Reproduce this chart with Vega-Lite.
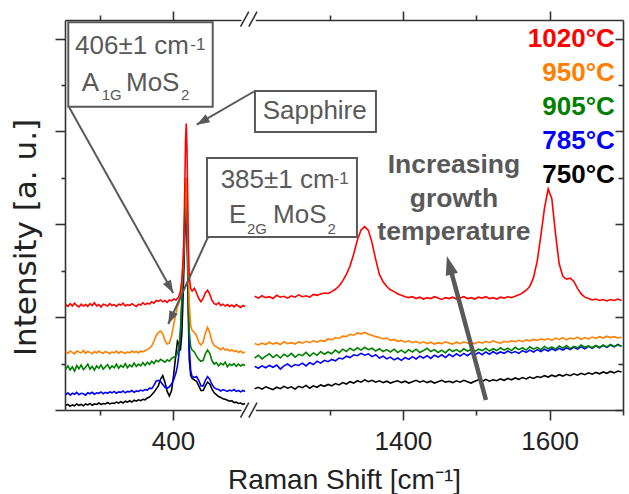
{
"$schema": "https://vega.github.io/schema/vega-lite/v6.json",
"width": 558, "height": 390,
"autosize": {"type": "none"},
"padding": {"left": 65, "top": 20, "right": 6, "bottom": 84},
"background": "white",
"config": {"view": {"stroke": null}, "text": {"font": "Liberation Sans"}},
"resolve": {"axis": {"x": "independent", "y": "independent"}},
"datasets": {"spec": [
{"x":254,"r":2.27,"o":1.26,"g":0.88,"b":0.33,"k":0.10,"p":"L"},
{"x":257,"r":2.23,"o":1.22,"g":0.95,"b":0.37,"k":0.12,"p":"L"},
{"x":260,"r":2.29,"o":1.27,"g":0.86,"b":0.32,"k":0.08,"p":"L"},
{"x":263,"r":2.24,"o":1.24,"g":0.93,"b":0.36,"k":0.11,"p":"L"},
{"x":266,"r":2.30,"o":1.21,"g":0.84,"b":0.34,"k":0.09,"p":"L"},
{"x":269,"r":2.25,"o":1.27,"g":0.96,"b":0.38,"k":0.13,"p":"L"},
{"x":272,"r":2.22,"o":1.25,"g":0.89,"b":0.33,"k":0.10,"p":"L"},
{"x":275,"r":2.28,"o":1.23,"g":0.97,"b":0.36,"k":0.12,"p":"L"},
{"x":278,"r":2.24,"o":1.28,"g":0.87,"b":0.35,"k":0.09,"p":"L"},
{"x":281,"r":2.27,"o":1.22,"g":0.92,"b":0.32,"k":0.13,"p":"L"},
{"x":284,"r":2.23,"o":1.26,"g":0.99,"b":0.37,"k":0.11,"p":"L"},
{"x":287,"r":2.29,"o":1.24,"g":0.88,"b":0.35,"k":0.14,"p":"L"},
{"x":290,"r":2.25,"o":1.21,"g":0.94,"b":0.38,"k":0.10,"p":"L"},
{"x":293,"r":2.31,"o":1.26,"g":0.86,"b":0.34,"k":0.13,"p":"L"},
{"x":296,"r":2.24,"o":1.23,"g":0.95,"b":0.37,"k":0.12,"p":"L"},
{"x":299,"r":2.27,"o":1.27,"g":0.90,"b":0.36,"k":0.15,"p":"L"},
{"x":302,"r":2.22,"o":1.24,"g":0.97,"b":0.39,"k":0.12,"p":"L"},
{"x":305,"r":2.28,"o":1.22,"g":0.88,"b":0.35,"k":0.14,"p":"L"},
{"x":308,"r":2.26,"o":1.26,"g":0.93,"b":0.38,"k":0.13,"p":"L"},
{"x":311,"r":2.24,"o":1.24,"g":0.98,"b":0.36,"k":0.16,"p":"L"},
{"x":314,"r":2.29,"o":1.21,"g":0.89,"b":0.39,"k":0.13,"p":"L"},
{"x":317,"r":2.25,"o":1.25,"g":0.95,"b":0.37,"k":0.15,"p":"L"},
{"x":320,"r":2.27,"o":1.23,"g":0.91,"b":0.40,"k":0.14,"p":"L"},
{"x":323,"r":2.23,"o":1.27,"g":0.99,"b":0.36,"k":0.17,"p":"L"},
{"x":326,"r":2.28,"o":1.22,"g":0.90,"b":0.39,"k":0.15,"p":"L"},
{"x":329,"r":2.26,"o":1.26,"g":0.96,"b":0.38,"k":0.18,"p":"L"},
{"x":332,"r":2.30,"o":1.24,"g":0.92,"b":0.41,"k":0.15,"p":"L"},
{"x":335,"r":2.24,"o":1.22,"g":1.00,"b":0.37,"k":0.19,"p":"L"},
{"x":338,"r":2.27,"o":1.25,"g":0.91,"b":0.40,"k":0.17,"p":"L"},
{"x":341,"r":2.25,"o":1.23,"g":0.97,"b":0.39,"k":0.20,"p":"L"},
{"x":344,"r":2.29,"o":1.27,"g":0.93,"b":0.42,"k":0.17,"p":"L"},
{"x":347,"r":2.26,"o":1.24,"g":1.01,"b":0.38,"k":0.21,"p":"L"},
{"x":350,"r":2.23,"o":1.26,"g":0.94,"b":0.41,"k":0.19,"p":"L"},
{"x":353,"r":2.28,"o":1.23,"g":0.99,"b":0.40,"k":0.22,"p":"L"},
{"x":356,"r":2.26,"o":1.27,"g":0.95,"b":0.43,"k":0.20,"p":"L"},
{"x":359,"r":2.31,"o":1.25,"g":1.02,"b":0.41,"k":0.23,"p":"L"},
{"x":362,"r":2.27,"o":1.28,"g":0.96,"b":0.44,"k":0.22,"p":"L"},
{"x":365,"r":2.30,"o":1.30,"g":1.03,"b":0.43,"k":0.26,"p":"L"},
{"x":368,"r":2.28,"o":1.33,"g":0.98,"b":0.47,"k":0.28,"p":"L"},
{"x":371,"r":2.33,"o":1.38,"g":1.05,"b":0.46,"k":0.33,"p":"L"},
{"x":374,"r":2.30,"o":1.48,"g":1.00,"b":0.53,"k":0.38,"p":"L"},
{"x":377,"r":2.36,"o":1.60,"g":1.07,"b":0.62,"k":0.45,"p":"L"},
{"x":380,"r":2.34,"o":1.67,"g":1.04,"b":0.64,"k":0.52,"p":"L"},
{"x":383,"r":2.37,"o":1.70,"g":1.09,"b":0.61,"k":0.66,"p":"L"},
{"x":386,"r":2.33,"o":1.64,"g":1.06,"b":0.55,"k":0.74,"p":"L"},
{"x":389,"r":2.36,"o":1.50,"g":1.03,"b":0.49,"k":0.60,"p":"L"},
{"x":392,"r":2.32,"o":1.42,"g":1.08,"b":0.47,"k":0.40,"p":"L"},
{"x":395,"r":2.37,"o":1.44,"g":1.05,"b":0.50,"k":0.30,"p":"L"},
{"x":398,"r":2.35,"o":1.60,"g":1.11,"b":0.56,"k":0.42,"p":"L"},
{"x":401,"r":2.39,"o":1.85,"g":1.14,"b":0.66,"k":0.78,"p":"L"},
{"x":404,"r":2.37,"o":2.08,"g":1.16,"b":0.80,"k":1.22,"p":"L"},
{"x":406,"r":2.40,"o":2.22,"g":1.22,"b":0.95,"k":1.48,"p":"L"},
{"x":408,"r":2.45,"o":2.30,"g":1.35,"b":1.20,"k":1.42,"p":"L"},
{"x":410,"r":2.55,"o":2.42,"g":1.70,"b":1.60,"k":1.28,"p":"L"},
{"x":412,"r":2.80,"o":2.75,"g":2.40,"b":2.30,"k":1.65,"p":"L"},
{"x":414,"r":3.30,"o":3.25,"g":3.10,"b":3.00,"k":2.60,"p":"L"},
{"x":415,"r":3.90,"o":3.75,"g":3.60,"b":3.50,"k":3.20,"p":"L"},
{"x":416,"r":4.80,"o":4.30,"g":4.20,"b":4.00,"k":3.80,"p":"L"},
{"x":417,"r":5.80,"o":4.80,"g":4.60,"b":4.40,"k":4.20,"p":"L"},
{"x":418,"r":6.17,"o":5.00,"g":4.80,"b":4.50,"k":4.30,"p":"L"},
{"x":419,"r":5.60,"o":4.60,"g":4.30,"b":4.10,"k":3.90,"p":"L"},
{"x":420,"r":4.50,"o":3.70,"g":3.40,"b":3.20,"k":2.90,"p":"L"},
{"x":421,"r":3.50,"o":2.90,"g":2.40,"b":2.20,"k":1.90,"p":"L"},
{"x":422,"r":2.90,"o":2.30,"g":1.70,"b":1.40,"k":1.10,"p":"L"},
{"x":424,"r":2.62,"o":1.82,"g":1.36,"b":0.85,"k":0.75,"p":"L"},
{"x":426,"r":2.56,"o":1.71,"g":1.29,"b":0.72,"k":0.68,"p":"L"},
{"x":429,"r":2.62,"o":1.67,"g":1.25,"b":0.70,"k":0.65,"p":"L"},
{"x":432,"r":2.52,"o":1.60,"g":1.16,"b":0.72,"k":0.62,"p":"L"},
{"x":435,"r":2.40,"o":1.46,"g":1.09,"b":0.64,"k":0.52,"p":"L"},
{"x":438,"r":2.33,"o":1.40,"g":1.05,"b":0.52,"k":0.42,"p":"L"},
{"x":441,"r":2.41,"o":1.46,"g":1.07,"b":0.52,"k":0.42,"p":"L"},
{"x":444,"r":2.52,"o":1.66,"g":1.21,"b":0.64,"k":0.52,"p":"L"},
{"x":447,"r":2.58,"o":1.78,"g":1.29,"b":0.72,"k":0.60,"p":"L"},
{"x":450,"r":2.49,"o":1.66,"g":1.22,"b":0.66,"k":0.56,"p":"L"},
{"x":453,"r":2.36,"o":1.47,"g":1.06,"b":0.55,"k":0.45,"p":"L"},
{"x":456,"r":2.29,"o":1.39,"g":0.99,"b":0.48,"k":0.37,"p":"L"},
{"x":459,"r":2.27,"o":1.36,"g":1.02,"b":0.45,"k":0.33,"p":"L"},
{"x":462,"r":2.31,"o":1.33,"g":0.95,"b":0.44,"k":0.29,"p":"L"},
{"x":465,"r":2.25,"o":1.30,"g":1.01,"b":0.41,"k":0.27,"p":"L"},
{"x":468,"r":2.28,"o":1.34,"g":0.97,"b":0.44,"k":0.24,"p":"L"},
{"x":471,"r":2.24,"o":1.29,"g":1.03,"b":0.42,"k":0.23,"p":"L"},
{"x":474,"r":2.27,"o":1.31,"g":0.93,"b":0.40,"k":0.21,"p":"L"},
{"x":477,"r":2.23,"o":1.27,"g":0.99,"b":0.43,"k":0.19,"p":"L"},
{"x":480,"r":2.26,"o":1.30,"g":0.96,"b":0.41,"k":0.20,"p":"L"},
{"x":483,"r":2.22,"o":1.26,"g":1.00,"b":0.44,"k":0.16,"p":"L"},
{"x":486,"r":2.27,"o":1.28,"g":0.94,"b":0.40,"k":0.17,"p":"L"},
{"x":489,"r":2.24,"o":1.24,"g":0.99,"b":0.42,"k":0.14,"p":"L"},
{"x":492,"r":2.21,"o":1.27,"g":0.95,"b":0.39,"k":0.15,"p":"L"},
{"x":495,"r":2.25,"o":1.23,"g":0.98,"b":0.42,"k":0.12,"p":"L"},
{"x":498,"r":2.23,"o":1.25,"g":0.96,"b":0.40,"k":0.14,"p":"L"},
{"x":1198,"r":2.45,"o":1.43,"g":1.12,"b":0.94,"k":0.46,"p":"R"},
{"x":1203,"r":2.41,"o":1.40,"g":1.18,"b":0.90,"k":0.49,"p":"R"},
{"x":1208,"r":2.46,"o":1.44,"g":1.10,"b":0.95,"k":0.45,"p":"R"},
{"x":1213,"r":2.42,"o":1.41,"g":1.16,"b":0.91,"k":0.50,"p":"R"},
{"x":1218,"r":2.44,"o":1.46,"g":1.21,"b":0.96,"k":0.47,"p":"R"},
{"x":1223,"r":2.40,"o":1.42,"g":1.13,"b":0.92,"k":0.44,"p":"R"},
{"x":1228,"r":2.47,"o":1.45,"g":1.19,"b":0.97,"k":0.49,"p":"R"},
{"x":1233,"r":2.43,"o":1.41,"g":1.12,"b":0.88,"k":0.46,"p":"R"},
{"x":1238,"r":2.45,"o":1.47,"g":1.20,"b":0.95,"k":0.51,"p":"R"},
{"x":1243,"r":2.41,"o":1.43,"g":1.15,"b":0.99,"k":0.47,"p":"R"},
{"x":1248,"r":2.46,"o":1.45,"g":1.22,"b":0.93,"k":0.50,"p":"R"},
{"x":1253,"r":2.43,"o":1.42,"g":1.14,"b":0.98,"k":0.45,"p":"R"},
{"x":1258,"r":2.48,"o":1.47,"g":1.20,"b":0.96,"k":0.51,"p":"R"},
{"x":1263,"r":2.44,"o":1.44,"g":1.17,"b":1.01,"k":0.48,"p":"R"},
{"x":1268,"r":2.46,"o":1.48,"g":1.24,"b":0.95,"k":0.53,"p":"R"},
{"x":1273,"r":2.43,"o":1.45,"g":1.16,"b":1.02,"k":0.47,"p":"R"},
{"x":1278,"r":2.49,"o":1.49,"g":1.23,"b":0.98,"k":0.52,"p":"R"},
{"x":1283,"r":2.47,"o":1.46,"g":1.18,"b":1.05,"k":0.49,"p":"R"},
{"x":1288,"r":2.50,"o":1.50,"g":1.26,"b":1.01,"k":0.54,"p":"R"},
{"x":1293,"r":2.52,"o":1.48,"g":1.20,"b":1.07,"k":0.51,"p":"R"},
{"x":1298,"r":2.51,"o":1.53,"g":1.25,"b":1.04,"k":0.55,"p":"R"},
{"x":1303,"r":2.55,"o":1.51,"g":1.21,"b":1.09,"k":0.52,"p":"R"},
{"x":1308,"r":2.60,"o":1.56,"g":1.29,"b":1.06,"k":0.57,"p":"R"},
{"x":1313,"r":2.67,"o":1.54,"g":1.23,"b":1.12,"k":0.54,"p":"R"},
{"x":1318,"r":2.78,"o":1.59,"g":1.31,"b":1.10,"k":0.59,"p":"R"},
{"x":1323,"r":2.92,"o":1.58,"g":1.26,"b":1.16,"k":0.56,"p":"R"},
{"x":1328,"r":3.10,"o":1.63,"g":1.33,"b":1.13,"k":0.61,"p":"R"},
{"x":1333,"r":3.36,"o":1.61,"g":1.28,"b":1.19,"k":0.58,"p":"R"},
{"x":1338,"r":3.66,"o":1.66,"g":1.34,"b":1.17,"k":0.63,"p":"R"},
{"x":1343,"r":3.88,"o":1.64,"g":1.29,"b":1.22,"k":0.60,"p":"R"},
{"x":1348,"r":3.95,"o":1.67,"g":1.35,"b":1.18,"k":0.65,"p":"R"},
{"x":1353,"r":3.87,"o":1.63,"g":1.30,"b":1.21,"k":0.61,"p":"R"},
{"x":1358,"r":3.60,"o":1.61,"g":1.33,"b":1.15,"k":0.64,"p":"R"},
{"x":1363,"r":3.24,"o":1.58,"g":1.27,"b":1.19,"k":0.60,"p":"R"},
{"x":1368,"r":2.92,"o":1.56,"g":1.32,"b":1.12,"k":0.63,"p":"R"},
{"x":1373,"r":2.76,"o":1.53,"g":1.26,"b":1.16,"k":0.59,"p":"R"},
{"x":1378,"r":2.66,"o":1.55,"g":1.30,"b":1.10,"k":0.62,"p":"R"},
{"x":1383,"r":2.59,"o":1.50,"g":1.25,"b":1.14,"k":0.58,"p":"R"},
{"x":1388,"r":2.55,"o":1.52,"g":1.31,"b":1.08,"k":0.61,"p":"R"},
{"x":1393,"r":2.50,"o":1.48,"g":1.24,"b":1.12,"k":0.63,"p":"R"},
{"x":1398,"r":2.47,"o":1.50,"g":1.29,"b":1.07,"k":0.59,"p":"R"},
{"x":1403,"r":2.44,"o":1.46,"g":1.23,"b":1.13,"k":0.62,"p":"R"},
{"x":1408,"r":2.42,"o":1.49,"g":1.30,"b":1.09,"k":0.58,"p":"R"},
{"x":1413,"r":2.44,"o":1.45,"g":1.25,"b":1.15,"k":0.61,"p":"R"},
{"x":1418,"r":2.40,"o":1.48,"g":1.31,"b":1.10,"k":0.64,"p":"R"},
{"x":1423,"r":2.43,"o":1.44,"g":1.24,"b":1.16,"k":0.60,"p":"R"},
{"x":1428,"r":2.39,"o":1.47,"g":1.28,"b":1.12,"k":0.63,"p":"R"},
{"x":1433,"r":2.42,"o":1.43,"g":1.33,"b":1.17,"k":0.59,"p":"R"},
{"x":1438,"r":2.40,"o":1.46,"g":1.26,"b":1.11,"k":0.62,"p":"R"},
{"x":1443,"r":2.44,"o":1.42,"g":1.30,"b":1.18,"k":0.58,"p":"R"},
{"x":1448,"r":2.41,"o":1.45,"g":1.24,"b":1.14,"k":0.61,"p":"R"},
{"x":1453,"r":2.38,"o":1.43,"g":1.29,"b":1.19,"k":0.64,"p":"R"},
{"x":1458,"r":2.42,"o":1.47,"g":1.23,"b":1.13,"k":0.60,"p":"R"},
{"x":1463,"r":2.40,"o":1.44,"g":1.31,"b":1.20,"k":0.62,"p":"R"},
{"x":1468,"r":2.43,"o":1.42,"g":1.26,"b":1.15,"k":0.59,"p":"R"},
{"x":1473,"r":2.39,"o":1.46,"g":1.30,"b":1.21,"k":0.63,"p":"R"},
{"x":1478,"r":2.41,"o":1.43,"g":1.25,"b":1.16,"k":0.60,"p":"R"},
{"x":1483,"r":2.44,"o":1.47,"g":1.32,"b":1.22,"k":0.64,"p":"R"},
{"x":1488,"r":2.40,"o":1.44,"g":1.27,"b":1.17,"k":0.61,"p":"R"},
{"x":1493,"r":2.42,"o":1.46,"g":1.30,"b":1.23,"k":0.58,"p":"R"},
{"x":1498,"r":2.39,"o":1.43,"g":1.26,"b":1.18,"k":0.62,"p":"R"},
{"x":1503,"r":2.43,"o":1.47,"g":1.31,"b":1.24,"k":0.65,"p":"R"},
{"x":1508,"r":2.41,"o":1.44,"g":1.28,"b":1.19,"k":0.61,"p":"R"},
{"x":1513,"r":2.44,"o":1.48,"g":1.33,"b":1.25,"k":0.66,"p":"R"},
{"x":1518,"r":2.40,"o":1.45,"g":1.27,"b":1.20,"k":0.62,"p":"R"},
{"x":1523,"r":2.42,"o":1.49,"g":1.32,"b":1.26,"k":0.65,"p":"R"},
{"x":1528,"r":2.39,"o":1.46,"g":1.28,"b":1.21,"k":0.63,"p":"R"},
{"x":1533,"r":2.43,"o":1.44,"g":1.34,"b":1.25,"k":0.67,"p":"R"},
{"x":1538,"r":2.41,"o":1.48,"g":1.29,"b":1.22,"k":0.64,"p":"R"},
{"x":1543,"r":2.44,"o":1.46,"g":1.33,"b":1.27,"k":0.68,"p":"R"},
{"x":1548,"r":2.42,"o":1.49,"g":1.28,"b":1.23,"k":0.65,"p":"R"},
{"x":1553,"r":2.45,"o":1.47,"g":1.35,"b":1.26,"k":0.69,"p":"R"},
{"x":1558,"r":2.48,"o":1.50,"g":1.30,"b":1.22,"k":0.66,"p":"R"},
{"x":1563,"r":2.52,"o":1.47,"g":1.34,"b":1.28,"k":0.70,"p":"R"},
{"x":1568,"r":2.58,"o":1.51,"g":1.29,"b":1.24,"k":0.67,"p":"R"},
{"x":1573,"r":2.66,"o":1.49,"g":1.36,"b":1.29,"k":0.71,"p":"R"},
{"x":1578,"r":2.85,"o":1.52,"g":1.31,"b":1.25,"k":0.68,"p":"R"},
{"x":1583,"r":3.20,"o":1.50,"g":1.35,"b":1.30,"k":0.72,"p":"R"},
{"x":1588,"r":3.75,"o":1.53,"g":1.30,"b":1.26,"k":0.70,"p":"R"},
{"x":1593,"r":4.35,"o":1.51,"g":1.37,"b":1.31,"k":0.74,"p":"R"},
{"x":1598,"r":4.76,"o":1.54,"g":1.32,"b":1.27,"k":0.71,"p":"R"},
{"x":1603,"r":4.55,"o":1.50,"g":1.36,"b":1.32,"k":0.75,"p":"R"},
{"x":1608,"r":3.80,"o":1.55,"g":1.31,"b":1.28,"k":0.72,"p":"R"},
{"x":1613,"r":3.15,"o":1.52,"g":1.38,"b":1.33,"k":0.76,"p":"R"},
{"x":1618,"r":2.88,"o":1.56,"g":1.33,"b":1.29,"k":0.73,"p":"R"},
{"x":1623,"r":2.82,"o":1.51,"g":1.39,"b":1.34,"k":0.77,"p":"R"},
{"x":1628,"r":2.84,"o":1.55,"g":1.32,"b":1.30,"k":0.74,"p":"R"},
{"x":1633,"r":2.77,"o":1.53,"g":1.37,"b":1.35,"k":0.78,"p":"R"},
{"x":1638,"r":2.62,"o":1.57,"g":1.34,"b":1.31,"k":0.75,"p":"R"},
{"x":1643,"r":2.50,"o":1.52,"g":1.40,"b":1.36,"k":0.79,"p":"R"},
{"x":1648,"r":2.43,"o":1.56,"g":1.35,"b":1.32,"k":0.76,"p":"R"},
{"x":1653,"r":2.40,"o":1.53,"g":1.38,"b":1.37,"k":0.80,"p":"R"},
{"x":1658,"r":2.37,"o":1.57,"g":1.34,"b":1.33,"k":0.77,"p":"R"},
{"x":1663,"r":2.39,"o":1.54,"g":1.39,"b":1.38,"k":0.81,"p":"R"},
{"x":1668,"r":2.36,"o":1.58,"g":1.35,"b":1.34,"k":0.78,"p":"R"},
{"x":1673,"r":2.38,"o":1.55,"g":1.40,"b":1.39,"k":0.82,"p":"R"},
{"x":1678,"r":2.35,"o":1.59,"g":1.36,"b":1.35,"k":0.79,"p":"R"},
{"x":1683,"r":2.38,"o":1.56,"g":1.41,"b":1.40,"k":0.83,"p":"R"},
{"x":1688,"r":2.36,"o":1.58,"g":1.37,"b":1.36,"k":0.80,"p":"R"},
{"x":1693,"r":2.39,"o":1.55,"g":1.40,"b":1.41,"k":0.84,"p":"R"},
{"x":1698,"r":2.36,"o":1.57,"g":1.38,"b":1.37,"k":0.82,"p":"R"}
]},
"layer": [
{
"data": {"name": "spec"},
"transform": [{"fold": ["k","b","g","o","r"], "as": ["s","y"]}],
"mark": {"type": "line", "strokeWidth": 1.6},
"encoding": {
"x": {"field": "x", "type": "quantitative", "scale": {"domain": [253,502,1193,1700], "range": [0,183,186,558], "nice": false, "zero": false},
"axis": {"orient": "bottom", "values": [400,1400,1600], "format": "d", "tickSize": 10, "tickWidth": 1.6, "tickColor": "#333", "domainColor": "#333", "domainWidth": 1.6, "grid": false, "labelFont": "Liberation Sans", "labelFontSize": 26, "labelColor": "#222", "labelPadding": 8, "labelFlush": false, "labelOverlap": false, "title": "Raman Shift [cm⁻¹]", "titleFont": "Liberation Sans", "titleFontSize": 28, "titleFontWeight": "normal", "titleColor": "#222", "titlePadding": 12}},
"y": {"field": "y", "type": "quantitative", "scale": {"domain": [0,8.4], "nice": false, "zero": false},
"axis": {"orient": "left", "values": [0,2,4,6,8], "tickSize": 10, "tickWidth": 1.6, "tickColor": "#333", "domainColor": "#333", "domainWidth": 1.6, "grid": false, "labels": false, "title": "Intensity [a. u.]", "titleFont": "DejaVu Sans", "titleFontSize": 31, "titleFontWeight": "normal", "titleColor": "#222", "titleX": -30, "titleY": 217, "titleAngle": -90, "titleAlign": "center", "titleBaseline": "alphabetic"}},
"color": {"field": "s", "type": "nominal", "scale": {"domain": ["k","b","g","o","r"], "range": ["#000000","#0000FF","#008000","#FF8000","#FF0000"]}, "legend": null},
"detail": {"field": "p"}
}
},
{
"data": {"values": [{"x": 493, "x2": 1199.5, "y": 0}, {"x": 493, "x2": 1199.5, "y": 8.4}]},
"mark": {"type": "rule", "color": "white", "strokeWidth": 5},
"encoding": {
"x": {"field": "x", "type": "quantitative", "scale": {"domain": [253,502,1193,1700], "range": [0,183,186,558], "nice": false, "zero": false},
"axis": {"orient": "bottom", "values": [300,1300,1500,1700], "tickSize": 5, "tickWidth": 1.6, "tickColor": "#333", "domain": false, "labels": false, "grid": false, "title": null}},
"x2": {"field": "x2"},
"y": {"field": "y", "type": "quantitative", "scale": {"domain": [0,8.4], "nice": false, "zero": false},
"axis": {"orient": "left", "values": [1,3,5,7], "tickSize": 4, "tickWidth": 1.6, "tickColor": "#333", "domain": false, "labels": false, "grid": false, "title": null}}
}
},
{
"data": {"values": [{"x": 491.8, "x2": 686, "y": -0.166, "y2": 0.157}, {"x": 686, "x2": 1201.2, "y": -0.166, "y2": 0.157}, {"x": 491.8, "x2": 686, "y": 8.255, "y2": 8.578}, {"x": 686, "x2": 1201.2, "y": 8.255, "y2": 8.578}]},
"mark": {"type": "rule", "color": "#333", "strokeWidth": 1.6},
"encoding": {
"x": {"field": "x", "type": "quantitative", "scale": {"domain": [253,502,1193,1700], "range": [0,183,186,558], "nice": false, "zero": false},
"axis": {"orient": "top", "values": [400,1400,1600], "tickSize": 9, "tickWidth": 1.6, "tickColor": "#333", "domainColor": "#333", "domainWidth": 1.6, "labels": false, "grid": false, "title": null}},
"x2": {"field": "x2"},
"y": {"field": "y", "type": "quantitative", "scale": {"domain": [0,8.4], "nice": false, "zero": false},
"axis": {"orient": "right", "values": [0,2,4,6,8], "tickSize": -8, "tickWidth": 1.6, "tickColor": "#333", "domainColor": "#333", "domainWidth": 1.6, "labels": false, "grid": false, "title": null}},
"y2": {"field": "y2"}
}
},
{
"data": {"values": [{"x": 257.5, "x2": 454, "y": 8.35, "y2": 6.532}, {"x": 1198.4, "x2": 1363.3, "y": 6.871, "y2": 5.987}, {"x": 446.2, "x2": 1337.4, "y": 5.427, "y2": 3.726}]},
"mark": {"type": "rect", "fill": "white", "stroke": "#595959", "strokeWidth": 2},
"encoding": {
"x": {"field": "x", "type": "quantitative", "scale": {"domain": [253,502,1193,1700], "range": [0,183,186,558], "nice": false, "zero": false},
"axis": {"orient": "top", "values": [300,1300,1500], "tickSize": 5, "tickWidth": 1.6, "tickColor": "#333", "domain": false, "labels": false, "grid": false, "title": null}},
"x2": {"field": "x2"},
"y": {"field": "y", "type": "quantitative", "scale": {"domain": [0,8.4], "nice": false, "zero": false},
"axis": {"orient": "right", "values": [1,3,5,7], "tickSize": -5, "tickWidth": 1.6, "tickColor": "#333", "domain": false, "labels": false, "grid": false, "title": null}},
"y2": {"field": "y2"}
}
},
{
"data": {"values": [{"x": 258.4, "y": 6.526, "x2": 400.3, "y2": 2.52}, {"x": 1197.1, "y": 6.86, "x2": 432.2, "y2": 6.145}, {"x": 447.6, "y": 3.726, "x2": 393.5, "y2": 1.852}]},
"mark": {"type": "rule", "color": "#595959", "strokeWidth": 2},
"encoding": {
"x": {"field": "x", "type": "quantitative", "scale": {"domain": [253,502,1193,1700], "range": [0,183,186,558], "nice": false, "zero": false}, "axis": null},
"x2": {"field": "x2"},
"y": {"field": "y", "type": "quantitative", "scale": {"domain": [0,8.4], "nice": false, "zero": false}, "axis": null},
"y2": {"field": "y2"}
}
},
{
"data": {"values": [{"x": 1513.2, "y": 0.215, "x2": 1465.8, "y2": 2.985}]},
"mark": {"type": "rule", "color": "#595959", "strokeWidth": 4.5},
"encoding": {
"x": {"field": "x", "type": "quantitative", "scale": {"domain": [253,502,1193,1700], "range": [0,183,186,558], "nice": false, "zero": false}, "axis": null},
"x2": {"field": "x2"},
"y": {"field": "y", "type": "quantitative", "scale": {"domain": [0,8.4], "nice": false, "zero": false}, "axis": null},
"y2": {"field": "y2"}
}
},
{
"data": {"values": [{"x": 400.3, "y": 2.52}]},
"mark": {"type": "point", "shape": "M0,0L-0.35,1L0.35,1Z", "size": 676, "angle": 150.7, "filled": true, "color": "#595959", "opacity": 1, "strokeWidth": 0},
"encoding": {
"x": {"field": "x", "type": "quantitative", "scale": {"domain": [253,502,1193,1700], "range": [0,183,186,558], "nice": false, "zero": false}, "axis": null},
"y": {"field": "y", "type": "quantitative", "scale": {"domain": [0,8.4], "nice": false, "zero": false}, "axis": null}
}
},
{
"data": {"values": [{"x": 432.2, "y": 6.145}]},
"mark": {"type": "point", "shape": "M0,0L-0.35,1L0.35,1Z", "size": 676, "angle": 240, "filled": true, "color": "#595959", "opacity": 1, "strokeWidth": 0},
"encoding": {
"x": {"field": "x", "type": "quantitative", "scale": {"domain": [253,502,1193,1700], "range": [0,183,186,558], "nice": false, "zero": false}, "axis": null},
"y": {"field": "y", "type": "quantitative", "scale": {"domain": [0,8.4], "nice": false, "zero": false}, "axis": null}
}
},
{
"data": {"values": [{"x": 393.5, "y": 1.852}]},
"mark": {"type": "point", "shape": "M0,0L-0.35,1L0.35,1Z", "size": 676, "angle": 204.5, "filled": true, "color": "#595959", "opacity": 1, "strokeWidth": 0},
"encoding": {
"x": {"field": "x", "type": "quantitative", "scale": {"domain": [253,502,1193,1700], "range": [0,183,186,558], "nice": false, "zero": false}, "axis": null},
"y": {"field": "y", "type": "quantitative", "scale": {"domain": [0,8.4], "nice": false, "zero": false}, "axis": null}
}
},
{
"data": {"values": [{"x": 1460, "y": 3.317}]},
"mark": {"type": "point", "shape": "M0,0L-0.33,1L0.33,1Z", "size": 1444, "angle": 344.9, "filled": true, "color": "#595959", "opacity": 1, "strokeWidth": 0},
"encoding": {
"x": {"field": "x", "type": "quantitative", "scale": {"domain": [253,502,1193,1700], "range": [0,183,186,558], "nice": false, "zero": false}, "axis": null},
"y": {"field": "y", "type": "quantitative", "scale": {"domain": [0,8.4], "nice": false, "zero": false}, "axis": null}
}
},
{
"data": {"values": [
{"t": "406±1 cm", "x": 266.6, "y": 7.661},
{"t": "A", "x": 275.7, "y": 6.871},
{"t": "MoS", "x": 336.0, "y": 6.871},
{"t": "Sapphire", "x": 1208.9, "y": 6.267},
{"t": "385±1 cm", "x": 464.8, "y": 4.775},
{"t": "E", "x": 476.1, "y": 4.021},
{"t": "MoS", "x": 1223.0, "y": 4.021}
]},
"mark": {"type": "text", "align": "left", "baseline": "alphabetic", "fontSize": 26, "font": "Liberation Sans", "color": "#595959"},
"encoding": {
"x": {"field": "x", "type": "quantitative", "scale": {"domain": [253,502,1193,1700], "range": [0,183,186,558], "nice": false, "zero": false}, "axis": null},
"y": {"field": "y", "type": "quantitative", "scale": {"domain": [0,8.4], "nice": false, "zero": false}, "axis": null},
"text": {"field": "t"}
}
},
{
"data": {"values": [
{"t": "-1", "x": 423.4, "y": 7.753},
{"t": "-1", "x": 1305.4, "y": 4.868}
]},
"mark": {"type": "text", "align": "left", "baseline": "alphabetic", "fontSize": 17, "font": "Liberation Sans", "color": "#595959"},
"encoding": {
"x": {"field": "x", "type": "quantitative", "scale": {"domain": [253,502,1193,1700], "range": [0,183,186,558], "nice": false, "zero": false}, "axis": null},
"y": {"field": "y", "type": "quantitative", "scale": {"domain": [0,8.4], "nice": false, "zero": false}, "axis": null},
"text": {"field": "t"}
}
},
{
"data": {"values": [
{"t": "1G", "x": 302.9, "y": 6.677},
{"t": "2", "x": 410.8, "y": 6.677},
{"t": "2G", "x": 500.6, "y": 3.791},
{"t": "2", "x": 1297.2, "y": 3.791}
]},
"mark": {"type": "text", "align": "left", "baseline": "alphabetic", "fontSize": 15, "font": "Liberation Sans", "color": "#595959"},
"encoding": {
"x": {"field": "x", "type": "quantitative", "scale": {"domain": [253,502,1193,1700], "range": [0,183,186,558], "nice": false, "zero": false}, "axis": null},
"y": {"field": "y", "type": "quantitative", "scale": {"domain": [0,8.4], "nice": false, "zero": false}, "axis": null},
"text": {"field": "t"}
}
},
{
"data": {"values": [
{"t": "1020°C", "s": "r", "x": 1688.9, "y": 7.825},
{"t": "950°C", "s": "o", "x": 1688.9, "y": 7.086},
{"t": "905°C", "s": "g", "x": 1688.9, "y": 6.354},
{"t": "785°C", "s": "b", "x": 1688.9, "y": 5.621},
{"t": "750°C", "s": "k", "x": 1688.9, "y": 4.883}
]},
"mark": {"type": "text", "align": "right", "baseline": "alphabetic", "fontSize": 26, "fontWeight": "bold", "font": "Liberation Sans"},
"encoding": {
"x": {"field": "x", "type": "quantitative", "scale": {"domain": [253,502,1193,1700], "range": [0,183,186,558], "nice": false, "zero": false}, "axis": null},
"y": {"field": "y", "type": "quantitative", "scale": {"domain": [0,8.4], "nice": false, "zero": false}, "axis": null},
"color": {"field": "s", "type": "nominal", "scale": {"domain": ["k","b","g","o","r"], "range": ["#000000","#0000FF","#008000","#FF8000","#FF0000"]}, "legend": null},
"text": {"field": "t"}
}
},
{
"data": {"values": [
{"t": "Increasing", "x": 1469.6, "y": 5.098},
{"t": "growth", "x": 1469.6, "y": 4.379},
{"t": "temperature", "x": 1469.6, "y": 3.661}
]},
"mark": {"type": "text", "align": "center", "baseline": "alphabetic", "fontSize": 26.5, "fontWeight": "bold", "font": "Liberation Sans", "color": "#595959"},
"encoding": {
"x": {"field": "x", "type": "quantitative", "scale": {"domain": [253,502,1193,1700], "range": [0,183,186,558], "nice": false, "zero": false}, "axis": null},
"y": {"field": "y", "type": "quantitative", "scale": {"domain": [0,8.4], "nice": false, "zero": false}, "axis": null},
"text": {"field": "t"}
}
}
]
}
